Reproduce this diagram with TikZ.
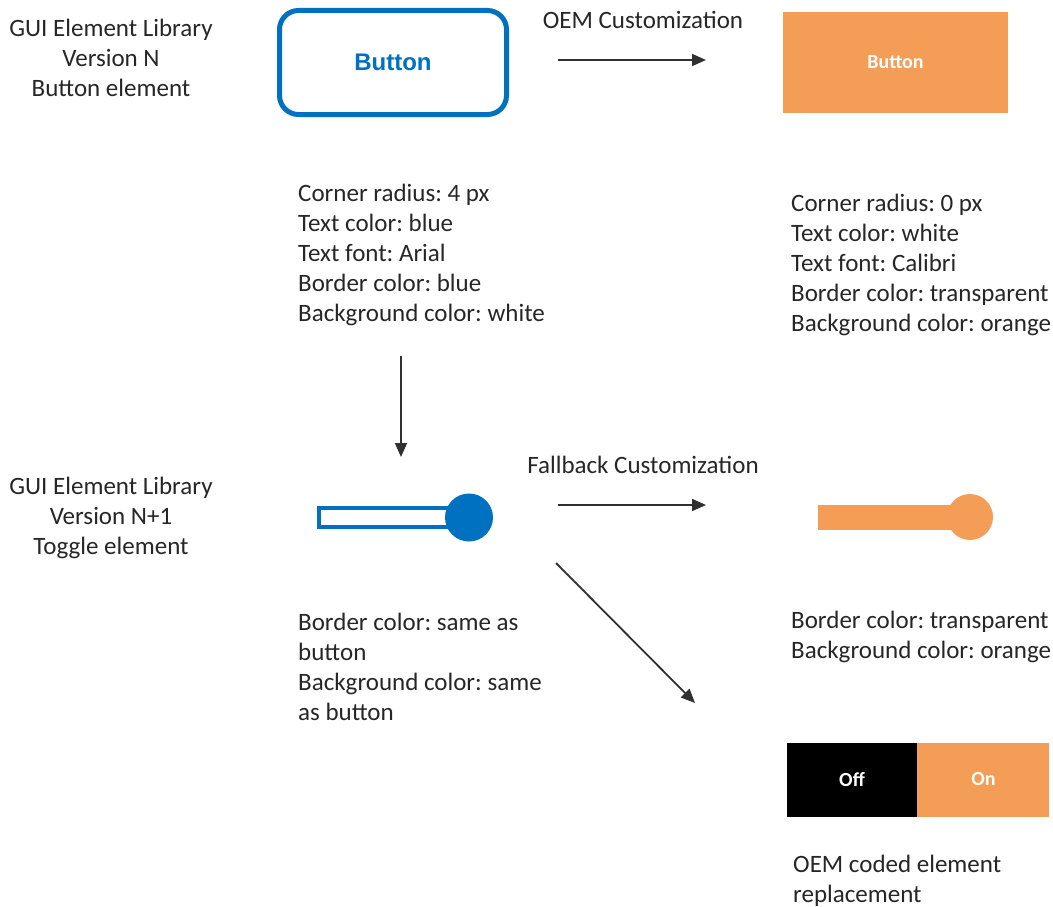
\documentclass[tikz,border=0pt]{standalone}
\usepackage{fontspec}
\setmainfont{Carlito}
\newfontfamily\arialfont{Liberation Sans}
\usetikzlibrary{arrows.meta}
\frenchspacing
\definecolor{guiblue}{HTML}{0070C0}
\definecolor{oemorange}{HTML}{F49D56}
\definecolor{txtgray}{HTML}{262626}
\definecolor{arrgray}{HTML}{303030}
\tikzset{
  body/.style={font=\fontsize{25}{30}\selectfont, text=txtgray, inner sep=0pt, align=left, anchor=west},
  caption/.style={font=\fontsize{25}{30}\selectfont, text=txtgray, inner sep=0pt, align=center},
  flow/.style={draw=arrgray, line width=1.8pt, -{Triangle[length=14pt,width=12pt]}},
  oemfill/.style={fill=oemorange, draw=none},
}
\begin{document}
\begin{tikzpicture}[x=1pt,y=-1pt]
\useasboundingbox (0,0) rectangle (1053,907);

% ---- Version N: button element ----
\node[caption] (libN) at (111,58) {GUI Element Library\\Version N\\Button element};

\node[draw=guiblue, line width=5pt, rounded corners=19pt, minimum width=227pt, minimum height=104pt,
      font=\arialfont\bfseries\fontsize{24}{28}\selectfont, text=guiblue] (btnN) at (393,62.5) {Button};

\node[oemfill, minimum width=225pt, minimum height=101pt,
      font=\bfseries\fontsize{20}{24}\selectfont, text=white] (btnOEM) at (895.5,62.5) {Button};

\node[caption] (oemlbl) at (643,20) {OEM Customization};
\coordinate (a1s) at (558,60);
\coordinate (a1e) at (706,60);
\draw[flow] (a1s) -- (a1e);

\node[body] (propN) at (298,255) {Corner radius: 4 px\\Text color: blue\\Text font: Arial\\Border color: blue\\Background color: white};
\node[body] (propOEM) at (791,265) {Corner radius: 0 px\\Text color: white\\Text font: Calibri\\Border color: transparent\\Background color: orange};

\coordinate (a2s) at (401,356);
\coordinate (a2e) at (401,457);
\draw[flow] (a2s) -- (a2e);

% ---- Version N+1: toggle element ----
\node[caption] (libN1) at (111,518) {GUI Element Library\\Version N+1\\Toggle element};

\draw[guiblue, line width=4pt] (319,508) rectangle (449,527);
\node[circle, fill=guiblue, minimum size=48pt, inner sep=0pt] (knobN) at (469,517.5) {};

\fill[oemorange] (818,505) rectangle (952,530);
\node[circle, fill=oemorange, minimum size=46pt, inner sep=0pt] (knobOEM) at (970,517) {};

\node[caption] (fblbl) at (643,465) {Fallback Customization};
\coordinate (a3s) at (558,505);
\coordinate (a3e) at (706,505);
\draw[flow] (a3s) -- (a3e);

\coordinate (a4s) at (556,563);
\coordinate (a4e) at (695,703);
\draw[flow] (a4s) -- (a4e);

\node[body] (togN) at (298,666.5) {Border color: same as\\button\\Background color: same\\as button};
\node[body] (togOEM) at (791,637) {Border color: transparent\\Background color: orange};

% ---- OEM coded replacement ----
\node[fill=black, minimum width=130pt, minimum height=74pt, inner sep=0pt,
      font=\bfseries\fontsize{20}{24}\selectfont, text=white] (off) at (852,779.5) {Off};
\node[oemfill, minimum width=132pt, minimum height=74pt, inner sep=0pt,
      font=\bfseries\fontsize{20}{24}\selectfont, text=white, anchor=west] (on) at (off.east) {On};

\node[body] (repl) at (793,881) {OEM coded element\\replacement};
\end{tikzpicture}
\end{document}
